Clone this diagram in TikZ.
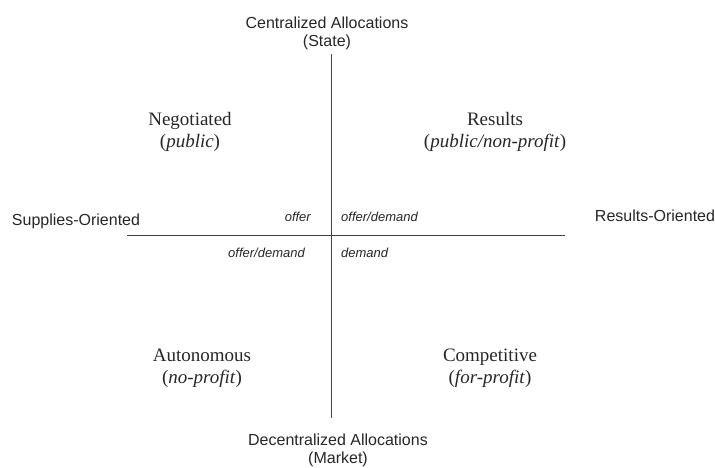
\documentclass[tikz,border=0pt]{standalone}
\usepackage{fontspec}
\setmainfont{Liberation Serif}
\setsansfont{Liberation Sans}
\begin{document}
\begin{tikzpicture}[x=1pt,y=-1pt,
  axis/.style={draw=black!75,line width=0.9pt},
  sanslab/.style={font=\sffamily\fontsize{16}{18}\selectfont,align=center,inner sep=0pt,text=black!85},
  quad/.style={font=\fontsize{19}{22}\selectfont,align=center,inner sep=0pt,text=black!85},
  small/.style={font=\sffamily\itshape\fontsize{13}{15}\selectfont,inner sep=0pt,text=black!85}]
\useasboundingbox (0,0) rectangle (715,468);
\coordinate (vt) at (331,54);
\coordinate (vb) at (331,418);
\coordinate (hl) at (127,235);
\coordinate (hr) at (565,235);
\draw[axis] (vt) -- (vb);
\draw[axis] (hl) -- (hr);
\node[sanslab] (top) at (327,33) {Centralized Allocations\\(State)};
\node[sanslab] (bot) at (338,450) {Decentralized Allocations\\(Market)};
\node[sanslab] (left) at (76,221) {Supplies-Oriented};
\node[sanslab] (right) at (655,216) {Results-Oriented};
\node[quad] (nw) at (190,132) {Negotiated\\(\textit{public})};
\node[quad] (ne) at (495,132) {Results\\(\textit{public/non-profit})};
\node[quad] (sw) at (202,368) {Autonomous\\(\textit{no-profit})};
\node[quad] (se) at (490,368) {Competitive\\(\textit{for-profit})};
\node[small,anchor=east] (o1) at (311,217) {offer};
\node[small,anchor=west] (o2) at (341,217) {offer/demand};
\node[small,anchor=east] (o3) at (305,253) {offer/demand};
\node[small,anchor=west] (o4) at (341,253) {demand};
\end{tikzpicture}
\end{document}
